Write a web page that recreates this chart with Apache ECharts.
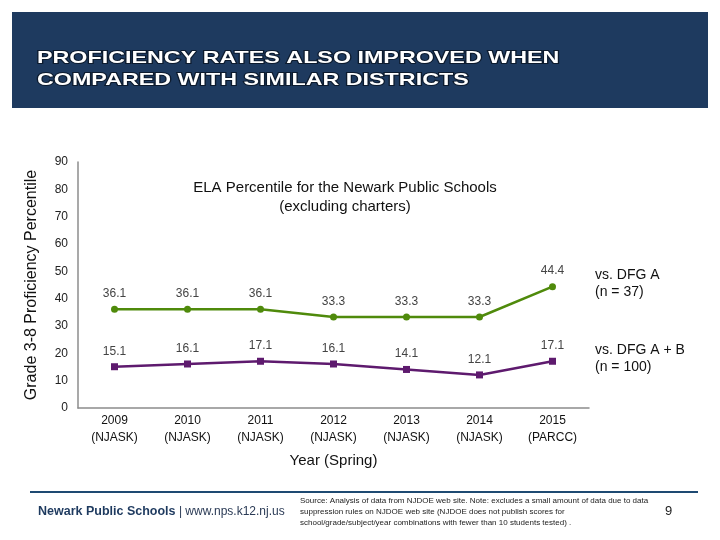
<!DOCTYPE html>
<html><head><meta charset="utf-8">
<script src="https://cdn.jsdelivr.net/npm/echarts@6/dist/echarts.min.js"></script>
<style>html,body{margin:0;padding:0;background:#fff}#c{width:720px;height:540px}</style>
</head><body><div id="c"></div>
<script>
const years = ['2009','2010','2011','2012','2013','2014','2015'];
const tests = ['NJASK','NJASK','NJASK','NJASK','NJASK','NJASK','PARCC'];
const dfgA = [36.1, 36.1, 36.1, 33.3, 33.3, 33.3, 44.4];
const dfgAB = [15.1, 16.1, 17.1, 16.1, 14.1, 12.1, 17.1];
const yTicks = [0, 10, 20, 30, 40, 50, 60, 70, 80, 90];
const categories = years.map((y, i) => y + '\n(' + tests[i] + ')');

const chart = echarts.init(document.getElementById('c'));
const font = 'Liberation Sans, Arial, sans-serif';
chart.setOption({
  animation: false,
  backgroundColor: '#fff',
  title: {
    text: 'ELA Percentile for the Newark Public Schools\n(excluding charters)',
    left: 340, top: 173, textAlign: 'center',
    textStyle: { fontFamily: font, fontSize: 15, fontWeight: 'normal', color: '#111', lineHeight: 19 }
  },
  grid: { left: 78, right: 131, top: 162, bottom: 132 },
  xAxis: {
    type: 'category', data: categories, boundaryGap: true,
    axisLine: { lineStyle: { color: '#8c8c8c', width: 1.5 } },
    axisTick: { show: false },
    axisLabel: { color: '#111', fontFamily: font, fontSize: 12, lineHeight: 17, margin: 4 },
    name: 'Year (Spring)', nameLocation: 'middle', nameGap: 45,
    nameTextStyle: { fontFamily: font, fontSize: 15, color: '#111' }
  },
  yAxis: {
    type: 'value', min: yTicks[0], max: yTicks[yTicks.length - 1], interval: 10,
    axisLine: { show: true, lineStyle: { color: '#8c8c8c', width: 1.5 } },
    axisTick: { show: false },
    splitLine: { show: false },
    axisLabel: { color: '#222', fontFamily: font, fontSize: 12, margin: 10 },
    name: 'Grade 3-8 Proficiency Percentile', nameLocation: 'middle', nameGap: 38, nameRotate: 90,
    nameTextStyle: { fontFamily: font, fontSize: 16, color: '#111' }
  },
  series: [
    {
      type: 'line', data: dfgA, symbol: 'circle', symbolSize: 7,
      lineStyle: { color: '#4f8a0b', width: 2.5 }, itemStyle: { color: '#4f8a0b' },
      label: { show: true, position: 'top', distance: 6, color: '#444', fontFamily: font, fontSize: 12,
        formatter: p => p.value.toFixed(1) }
    },
    {
      type: 'line', data: dfgAB, symbol: 'rect', symbolSize: 7,
      lineStyle: { color: '#5e1a6e', width: 2.5 }, itemStyle: { color: '#5e1a6e' },
      label: { show: true, position: 'top', distance: 6, color: '#444', fontFamily: font, fontSize: 12,
        formatter: p => p.value.toFixed(1) }
    }
  ],
  graphic: [
    { type: 'rect', shape: { x: 12, y: 12, width: 696, height: 96 }, style: { fill: '#1e3a5f' }, silent: true },
    { type: 'text', x: 37, y: 47, scaleX: 1.37, style: {
        text: 'PROFICIENCY RATES ALSO IMPROVED WHEN\nCOMPARED WITH SIMILAR DISTRICTS',
        fill: '#fff', font: 'bold 17px ' + font, lineHeight: 22,
        stroke: '#0d1b2e', lineWidth: 2 } },
    { type: 'text', x: 595, y: 267, style: { text: 'vs. DFG A\n(n = 37)', fill: '#111', font: '14px ' + font, lineHeight: 17 } },
    { type: 'text', x: 595, y: 342, style: { text: 'vs. DFG A + B\n(n = 100)', fill: '#111', font: '14px ' + font, lineHeight: 17 } },
    { type: 'rect', shape: { x: 30, y: 491, width: 668, height: 2 }, style: { fill: '#1e4a72' }, silent: true },
    { type: 'text', x: 38, y: 505, style: { rich: {
        a: { fontFamily: font, fontSize: 12.5, fontWeight: 'bold', fill: '#1e3a5f' },
        b: { fontFamily: font, fontSize: 12, fill: '#2a3a55' } },
        text: '{a|Newark Public Schools}{b| | www.nps.k12.nj.us}' } },
    { type: 'text', x: 300, y: 495, style: {
        text: 'Source: Analysis of data from NJDOE web site. Note: excludes a small amount of data due to data\nsuppression rules on NJDOE web site (NJDOE does not publish scores for\nschool/grade/subject/year combinations with fewer than 10 students tested) .',
        fill: '#222', font: '8px ' + font, lineHeight: 11 } },
    { type: 'text', x: 665, y: 505, style: { text: '9', fill: '#222', font: '13px ' + font } }
  ]
});
</script></body></html>
